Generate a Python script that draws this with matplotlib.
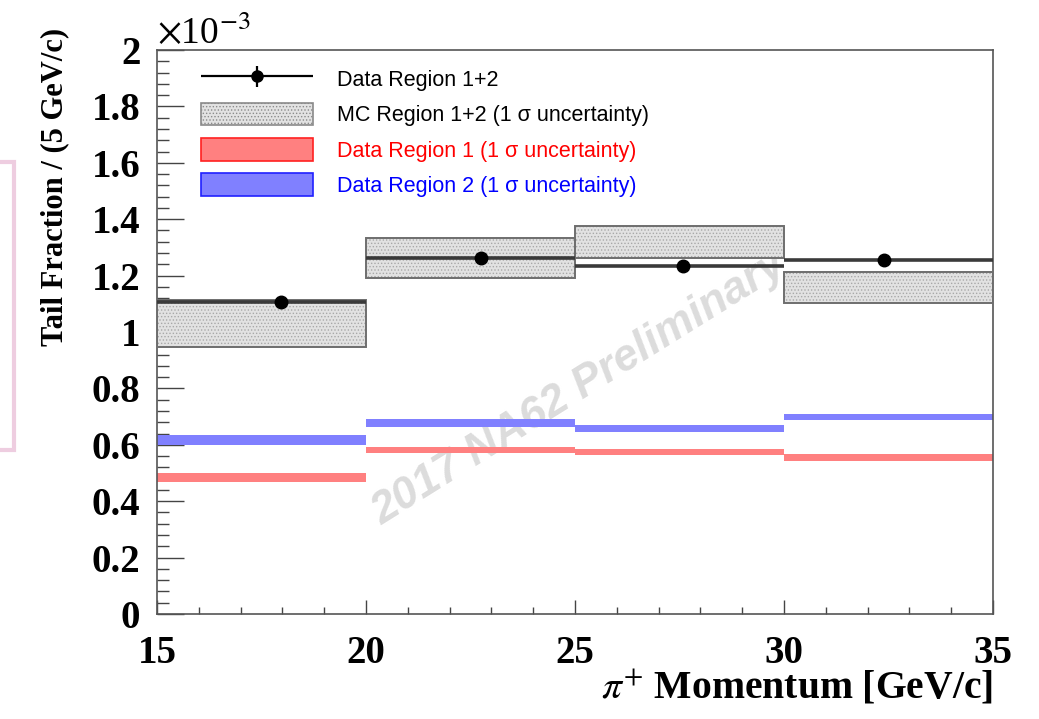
import numpy as np
import matplotlib
matplotlib.use('Agg')
import matplotlib.pyplot as plt
from matplotlib.patches import Patch, Rectangle
from matplotlib.container import ErrorbarContainer
from matplotlib.legend_handler import HandlerErrorbar
from matplotlib.ticker import MultipleLocator, FuncFormatter

# values in units of 1e-3
bin_edges = np.array([15, 20, 25, 30, 35])
data_x = np.array([17.97, 22.75, 27.58, 32.4])
data_y = np.array([1.105, 1.262, 1.234, 1.255])
data_yerr = np.array([0.015, 0.010, 0.010, 0.010])
mc_lo = np.array([0.947, 1.191, 1.262, 1.103])
mc_hi = np.array([1.113, 1.333, 1.376, 1.213])
r1_val = np.array([0.484, 0.582, 0.574, 0.555])
r1_err = np.array([0.016, 0.011, 0.011, 0.012])
r2_val = np.array([0.617, 0.677, 0.658, 0.699])
r2_err = np.array([0.018, 0.014, 0.012, 0.010])

labels = ['Data Region 1+2', 'MC Region 1+2 (1 \u03c3 uncertainty)',
          'Data Region 1 (1 \u03c3 uncertainty)', 'Data Region 2 (1 \u03c3 uncertainty)']

plt.rcParams['mathtext.fontset'] = 'stix'
plt.rcParams['hatch.linewidth'] = 0.6
serif = 'Liberation Serif'
sans = 'Liberation Sans'

fig = plt.figure(figsize=(10.39, 7.19), dpi=100)
ax = fig.add_axes([157 / 1039, 1 - 614 / 719, 836 / 1039, 564 / 719])

left = bin_edges[:-1]
width = np.diff(bin_edges)

# MC band: hatched fill and outline
ax.bar(left, mc_hi - mc_lo, bottom=mc_lo, width=width, align='edge',
       color='#e2e2e2', edgecolor='#a8a8a8', hatch='.....', linewidth=0, zorder=2)
ax.bar(left, mc_hi - mc_lo, bottom=mc_lo, width=width, align='edge',
       facecolor='none', edgecolor='#6e6e6e', linewidth=1.4, zorder=3)

# region bands
ax.bar(left, 2 * r1_err, bottom=r1_val - r1_err, width=width, align='edge',
       color='#ff8080', linewidth=0, zorder=2)
ax.bar(left, 2 * r2_err, bottom=r2_val - r2_err, width=width, align='edge',
       color='#8080ff', linewidth=0, zorder=2)

# data points
ax.errorbar(data_x, data_y, yerr=data_yerr,
            xerr=[data_x - left, bin_edges[1:] - data_x],
            fmt='o', color='black', ecolor='#3a3a3a', ms=9, elinewidth=2.6,
            capsize=0, zorder=5)

# legend-only handle with caps
leg_data = ax.errorbar([], [], yerr=[], xerr=[], fmt='o', color='black',
                       ms=8, elinewidth=1.6, capsize=7, capthick=1.6)

handles = [leg_data,
           Patch(facecolor='#e2e2e2', edgecolor='#8a8a8a', hatch='.....', lw=1.2),
           Patch(facecolor='#ff8080', edgecolor='#ff2020', lw=1.2),
           Patch(facecolor='#8080ff', edgecolor='#2020ff', lw=1.2)]
leg = ax.legend(handles, labels, loc='upper left', bbox_to_anchor=(0.042, 0.985),
                frameon=False, prop={'family': sans, 'size': 15.5},
                handlelength=5.2, handleheight=1.25, handletextpad=1.15,
                labelspacing=0.55, borderaxespad=0,
                labelcolor=['black', 'black', '#ff0000', '#0000ff'],
                handler_map={ErrorbarContainer: HandlerErrorbar(xerr_size=2.6, yerr_size=0.5)})

# watermark
ax.text(25.1, 0.80, '2017 NA62 Preliminary', rotation=32, ha='center', va='center',
        fontsize=32, family=sans, weight='bold', style='italic', color='#dcdcdc', zorder=1)

ax.set_xlim(15, 35)
ax.set_ylim(0, 2)
ax.xaxis.set_major_locator(MultipleLocator(5))
ax.xaxis.set_minor_locator(MultipleLocator(1))
ax.yaxis.set_major_locator(MultipleLocator(0.2))
ax.yaxis.set_minor_locator(MultipleLocator(0.04))
ax.yaxis.set_major_formatter(FuncFormatter(lambda v, p: '%g' % round(v, 2)))
ax.tick_params(which='both', direction='in', top=False, right=False, color='#444444', width=1.0)
ax.tick_params(axis='y', which='major', length=19.5, pad=12)
ax.tick_params(axis='y', which='minor', length=8.6)
ax.tick_params(axis='x', which='major', length=10, pad=15)
ax.tick_params(axis='x', which='minor', length=5)
for lab in ax.get_xticklabels() + ax.get_yticklabels():
    lab.set_family(serif)
    lab.set_weight('bold')
    lab.set_fontsize(28)
for sp in ax.spines.values():
    sp.set_color('#555555')
    sp.set_linewidth(1.2)

fig.text(157 / 1039, 1 - 44 / 719, r'$\times$10$^{-3}$', family=serif, fontsize=27,
         ha='left', va='baseline')
fig.text(55 / 1039, 1 - 28 / 719, 'Tail Fraction / (5 GeV/c)', rotation=90, ha='center',
         va='top', family=serif, weight='bold', fontsize=22)
fig.text(993 / 1039, 1 - 688 / 719, r'$\pi^{+}$ Momentum [GeV/c]', ha='right', va='center',
         family=serif, weight='bold', fontsize=28.5)

# pink frame at left edge
fig.patches.append(Rectangle((-10 / 1039, 1 - 450 / 719), 24 / 1039, 288 / 719,
                             transform=fig.transFigure, fill=False,
                             edgecolor='#eecde0', linewidth=3))

fig.savefig('out.png', dpi=100)
